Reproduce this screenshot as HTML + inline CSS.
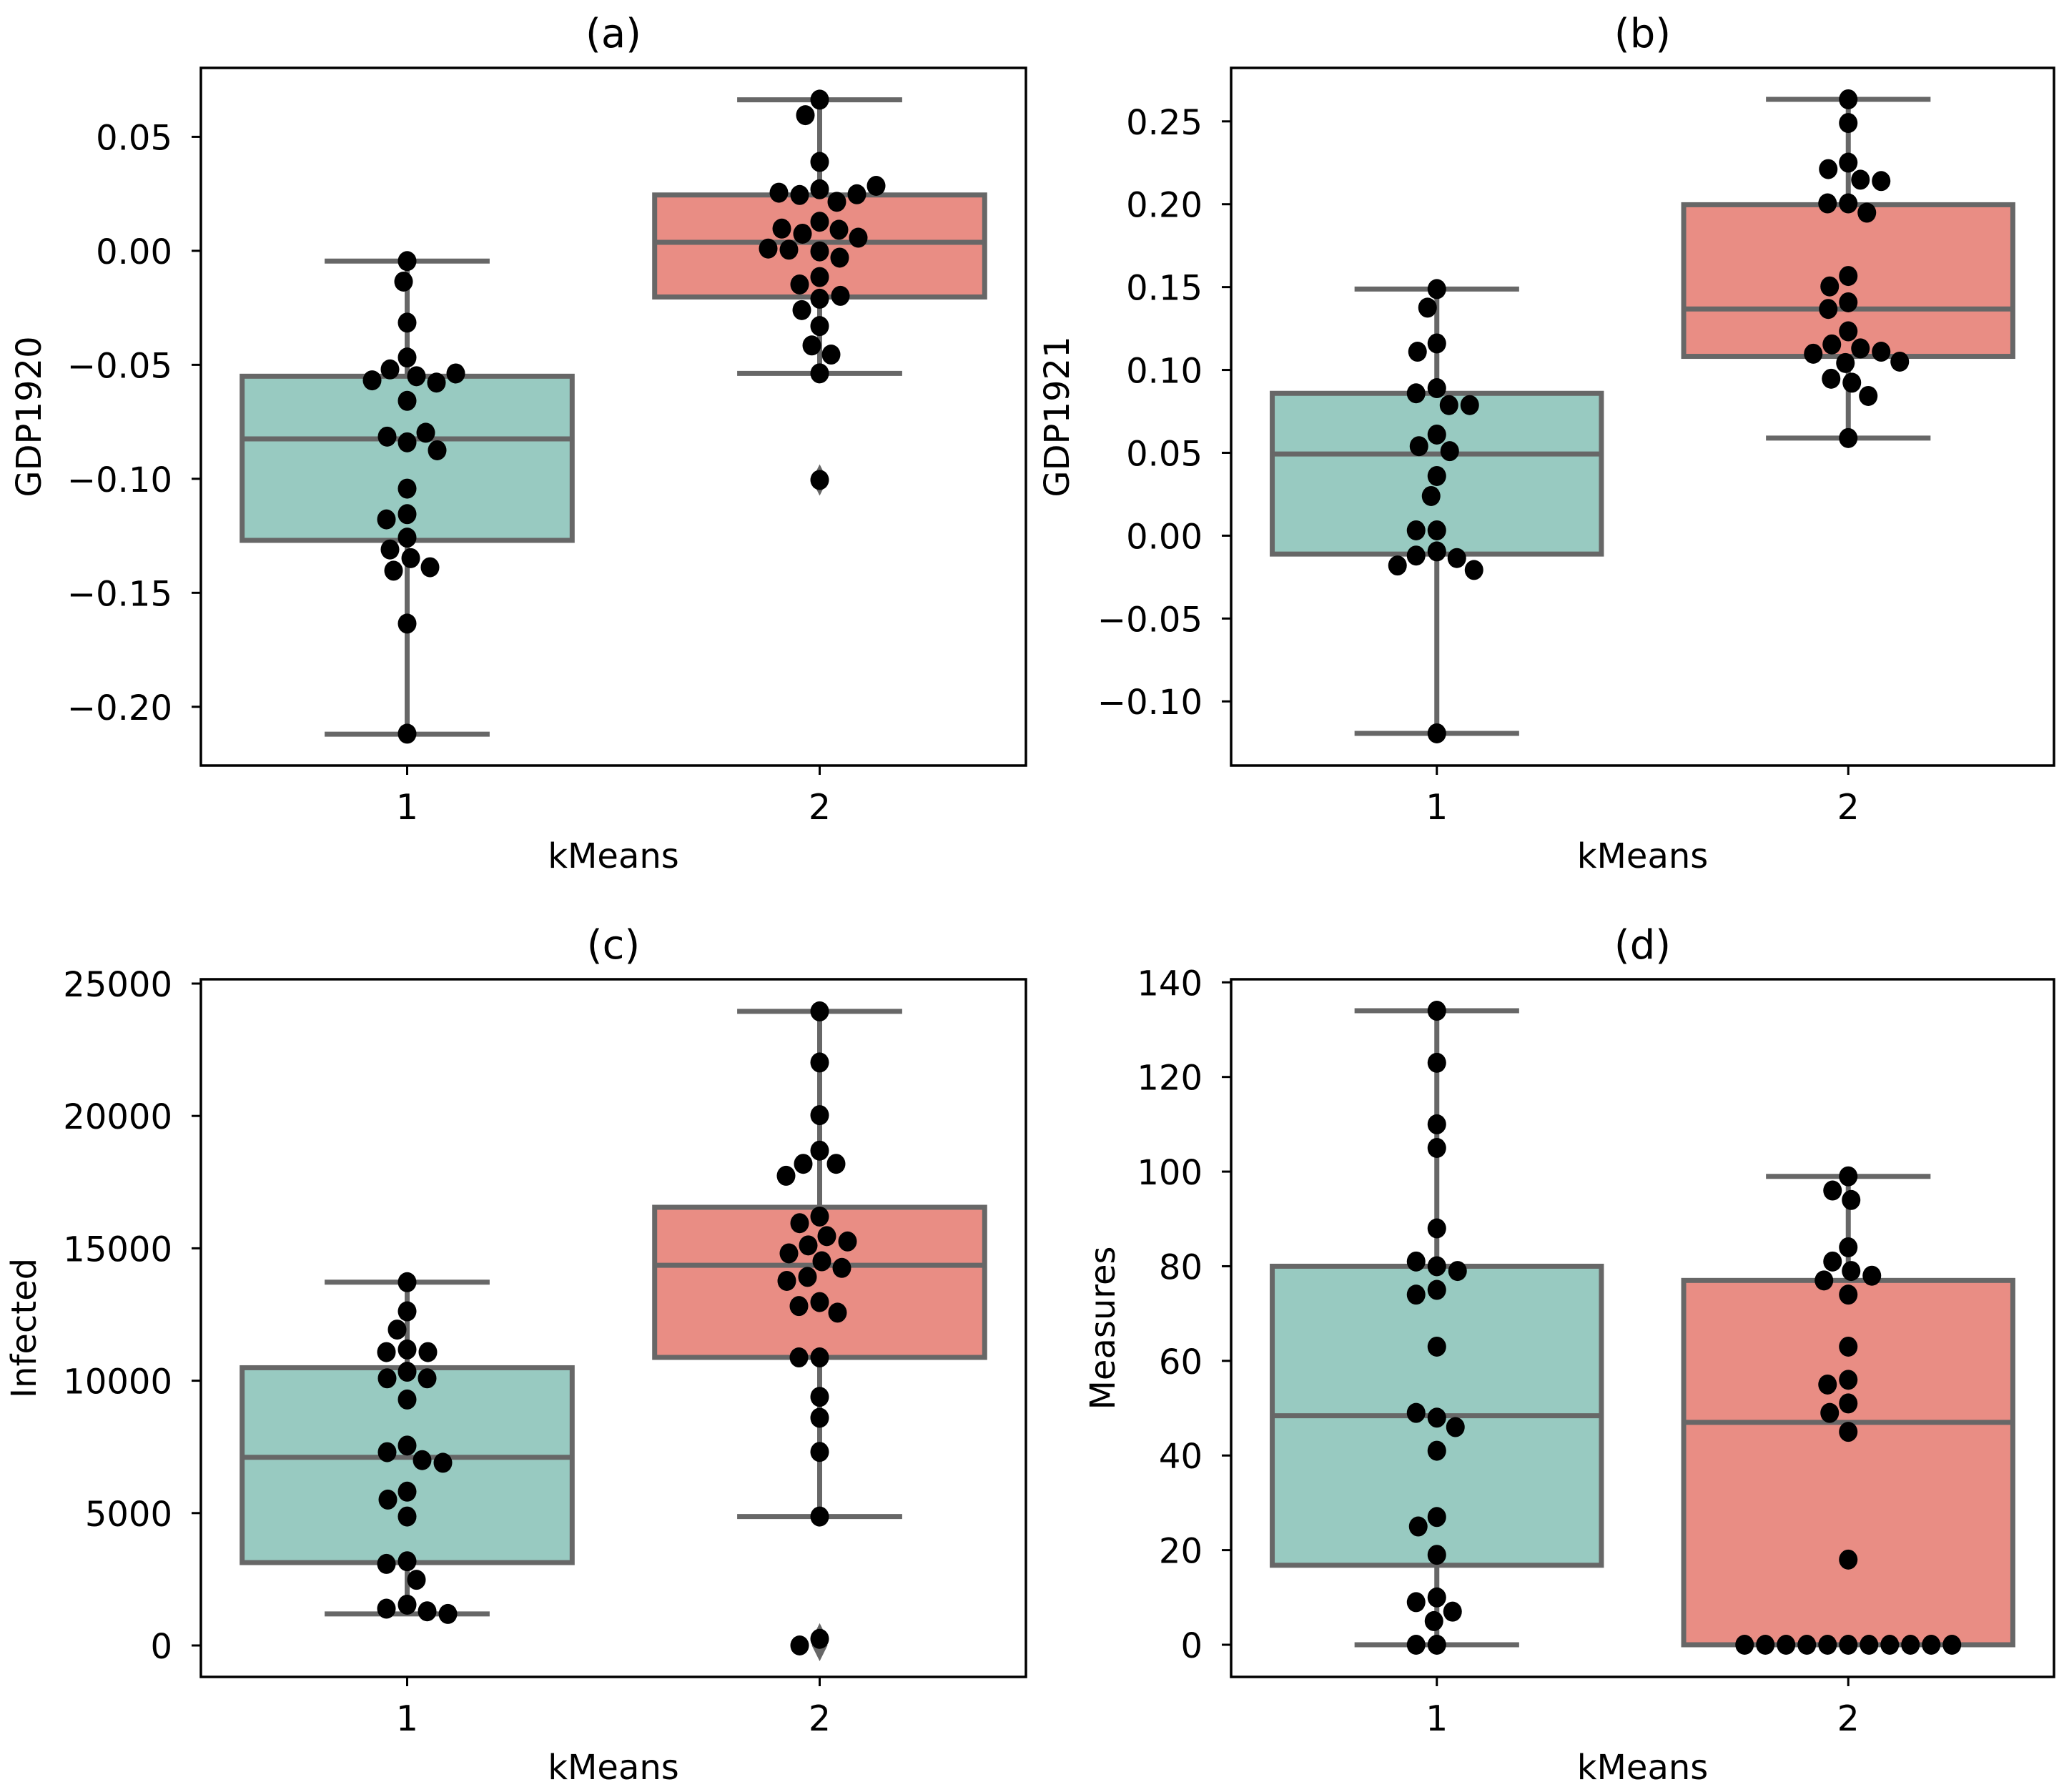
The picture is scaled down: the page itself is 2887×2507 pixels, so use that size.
<!DOCTYPE html>
<html><head><meta charset="utf-8">
<style>
html,body{margin:0;padding:0;background:#fff;}
svg{display:block;font-family:"DejaVu Sans","Liberation Sans",sans-serif;}
</style></head>
<body>
<svg id="fig" width="2887" height="2507" viewBox="0 0 2887 2507" xmlns="http://www.w3.org/2000/svg"></svg>
<script>
// ---- data ----
const categories = ["1","2"];
const titles = ["(a)","(b)","(c)","(d)"];
const yLabels = ["GDP1920","GDP1921","Infected","Measures"];
// panel a
const aTicks = [0.05,0.00,-0.05,-0.10,-0.15,-0.20];
const aTickLabels = ["0.05","0.00","\u22120.05","\u22120.10","\u22120.15","\u22120.20"];
const aBox1 = [-0.212,-0.127,-0.0825,-0.055,-0.0045];
const aBox2 = [-0.05375,-0.02025,0.00375,0.0245,0.06625];
const aOut1 = [];
const aOut2 = [-0.1005];
const aPts1 = [-0.0045,-0.0135,-0.0315,-0.0468,-0.052,-0.055,-0.0578,-0.0568,-0.0538,-0.0658,-0.084,-0.0815,-0.0798,-0.0875,-0.1043,-0.1155,-0.1178,-0.1258,-0.131,-0.1348,-0.1388,-0.1403,-0.1635,-0.2118];
const aPts2 = [0.0663,0.0595,0.039,0.027,0.0245,0.0215,0.0248,0.0255,0.0285,0.01275,0.0075,0.00925,0.00975,0.00575,-0.00025,0.0005,0.001,-0.003,-0.0115,-0.01475,-0.021,-0.01975,-0.026,-0.033,-0.0415,-0.0455,-0.05375,-0.1005];
// panel b
const bTicks = [0.25,0.20,0.15,0.10,0.05,0.00,-0.05,-0.10];
const bTickLabels = ["0.25","0.20","0.15","0.10","0.05","0.00","\u22120.05","\u22120.10"];
const bBox1 = [-0.1193,-0.0111,0.0493,0.0859,0.1488];
const bBox2 = [0.0589,0.1082,0.1368,0.1997,0.2633];
const bOut1 = [];
const bOut2 = [];
const bPts1 = [0.1488,0.1376,0.116,0.111,0.089,0.0859,0.0788,0.0788,0.061,0.054,0.051,0.036,0.0239,0.0032,0.0032,-0.0095,-0.012,-0.0135,-0.018,-0.0207,-0.1193];
const bPts2 = [0.2633,0.249,0.2251,0.2212,0.2148,0.214,0.2005,0.2005,0.1949,0.1567,0.1504,0.1408,0.1368,0.1233,0.1154,0.113,0.111,0.1098,0.1042,0.105,0.0923,0.0947,0.0843,0.0589];
// panel c
const cTicks = [25000,20000,15000,10000,5000,0];
const cTickLabels = ["25000","20000","15000","10000","5000","0"];
const cBox1 = [1190,3130,7107,10490,13720];
const cBox2 = [4870,10880,14360,16550,23950];
const cOut1 = [];
const cOut2 = [250,0];
const cPts1 = [13720,12620,11930,11180,11080,11080,10340,10090,10090,9290,7550,7300,7000,6900,5810,5510,4870,3180,3080,2480,1540,1390,1290,1190];
const cPts2 = [23950,22020,20030,18690,18190,18190,17740,16200,15950,15460,15260,15110,14810,14510,14260,13920,13770,12970,12820,12570,10880,10880,9390,8600,7310,4870,250,0];
// panel d
const dTicks = [140,120,100,80,60,40,20,0];
const dTickLabels = ["140","120","100","80","60","40","20","0"];
const dBox1 = [0,16.8,48.4,80,134];
const dBox2 = [0,0,47,77,99];
const dOut1 = [];
const dOut2 = [];
const dPts1 = [134,123,110,105,88,80,81,79,75,74,63,48,49,46,41,27,25,19,10,9,7,5,0,0];
const dPts2 = [99,96,94,84,81,79,78,77,74,63,56,55,51,49,45,18,0,0,0,0,0,0,0,0,0,0,0];

const NS = "http://www.w3.org/2000/svg";
const svg = document.getElementById('fig');
function mk(tag, attrs, parent){
  const e = document.createElementNS(NS, tag);
  for (const k in attrs) e.setAttribute(k, attrs[k]);
  (parent||svg).appendChild(e);
  return e;
}
const GRAY = "#676767";
const COLORS = ["#98cac1","#e98d84"];

function panel(p){
  const g = mk('g', {});
  
  
  const L=p.x0, R=p.x1, T=p.y0, B=p.y1;
  const yS = v => p.py0 + (v - p.v0) * (p.py1 - p.py0) / (p.v1 - p.v0);
  const catW = (R-L)/2;
  const xS = i => L + catW*(i+0.5);
  const t = mk('text',{x:(L+R)/2, y:T-29, 'font-size':56, 'text-anchor':'middle', fill:'#000'}, g);
  t.textContent = p.title;
  
  
  const bw = catW*0.8;
  [p.box1,p.box2].forEach((bx,i)=>{
    const cx = xS(i);
    const bg = mk('g',{},g);
    
    
    const cap = bw*0.5;
    mk('line',{x1:cx,x2:cx,y1:yS(bx[0]),y2:yS(bx[1]),stroke:GRAY,'stroke-width':7},bg);
    mk('line',{x1:cx,x2:cx,y1:yS(bx[3]),y2:yS(bx[4]),stroke:GRAY,'stroke-width':7},bg);
    mk('line',{x1:cx-cap/2,x2:cx+cap/2,y1:yS(bx[0]),y2:yS(bx[0]),stroke:GRAY,'stroke-width':7},bg);
    mk('line',{x1:cx-cap/2,x2:cx+cap/2,y1:yS(bx[4]),y2:yS(bx[4]),stroke:GRAY,'stroke-width':7},bg);
    const yt = yS(bx[3]), yb = yS(bx[1]);
    mk('rect',{x:cx-bw/2,y:Math.min(yt,yb),width:bw,height:Math.abs(yb-yt),fill:COLORS[i],stroke:GRAY,'stroke-width':7},bg);
    mk('line',{x1:cx-bw/2,x2:cx+bw/2,y1:yS(bx[2]),y2:yS(bx[2]),stroke:GRAY,'stroke-width':7},bg);
    const outs = i===0 ? p.out1 : p.out2;
    outs.forEach(v=>{
      const y=yS(v);
      const d = mk('path',{d:`M${cx} ${y-22} L${cx+11} ${y} L${cx} ${y+22} L${cx-11} ${y} Z`,fill:GRAY},bg);
      
      
    });
  });
  const D = 29;
  [p.pts1,p.pts2].forEach((pts,i)=>{
    const cx = xS(i);
    const placed = [];
    pts.forEach((val,k)=>{
      const y = yS(val);
      let best = 0;
      for (let s=0; s<400; s++){
        let ok=false;
        for (const sign of (s===0?[1]:[-1,1])){
          const off = sign*s;
          if (placed.every(q => (q.x-off)*(q.x-off)+(q.y-y)*(q.y-y) >= D*D)){ best=off; ok=true; break; }
        }
        if (ok) break;
      }
      placed.push({x:best,y:y});
      const c = mk('ellipse',{cx:cx+best, cy:y, rx:13, ry:14, fill:'#000'},g);
      
      
    });
  });
  const fr = mk('rect',{x:L,y:T,width:R-L,height:B-T,fill:'none',stroke:'#000','stroke-width':3.5},g);
  
  
  p.ticks.forEach((v,j)=>{
    const y=yS(v);
    mk('line',{x1:L-13,x2:L,y1:y,y2:y,stroke:'#000','stroke-width':3},g);
    const tl = mk('text',{x:L-40,y:y+18,'font-size':48,'text-anchor':'end',fill:'#000'},g);
    tl.textContent = p.tickLabels[j];
    
    
  });
  categories.forEach((c,i)=>{
    const x=xS(i);
    mk('line',{x1:x,x2:x,y1:B,y2:B+13,stroke:'#000','stroke-width':3},g);
    const tl = mk('text',{x:x,y:B+75,'font-size':49,'text-anchor':'middle',fill:'#000'},g);
    tl.textContent = c;
    
    
  });
  const xl = mk('text',{x:(L+R)/2,y:B+143,'font-size':48,'text-anchor':'middle',fill:'#000'},g);
  xl.textContent = 'kMeans';
  
  
  const yl = mk('text',{x:0,y:0,'font-size':48,'text-anchor':'middle',fill:'#000',transform:`translate(${p.ylx+17},${(T+B)/2}) rotate(-90)`},g);
  yl.textContent = p.ylabel;
  
  
}

panel({key:'a',title:titles[0],ylabel:yLabels[0],x0:281,x1:1435,y0:95,y1:1071,py0:350.9,v0:0,py1:988.8,v1:-0.2,
  box1:aBox1,box2:aBox2,out1:aOut1,out2:aOut2,pts1:aPts1,pts2:aPts2,ticks:aTicks,tickLabels:aTickLabels,ylx:40});
panel({key:'b',title:titles[1],ylabel:yLabels[1],x0:1722,x1:2873,y0:95,y1:1071,py0:749.4,v0:0,py1:169.8,v1:0.25,
  box1:bBox1,box2:bBox2,out1:bOut1,out2:bOut2,pts1:bPts1,pts2:bPts2,ticks:bTicks,tickLabels:bTickLabels,ylx:1478});
panel({key:'c',title:titles[2],ylabel:yLabels[2],x0:281,x1:1435,y0:1370,y1:2346,py0:2302,v0:0,py1:1376,v1:25000,
  box1:cBox1,box2:cBox2,out1:cOut1,out2:cOut2,pts1:cPts1,pts2:cPts2,ticks:cTicks,tickLabels:cTickLabels,ylx:33});
panel({key:'d',title:titles[3],ylabel:yLabels[3],x0:1722,x1:2873,y0:1370,y1:2346,py0:2301,v0:0,py1:1374.3,v1:140,
  box1:dBox1,box2:dBox2,out1:dOut1,out2:dOut2,pts1:dPts1,pts2:dPts2,ticks:dTicks,tickLabels:dTickLabels,ylx:1542});
</script>
</body></html>
